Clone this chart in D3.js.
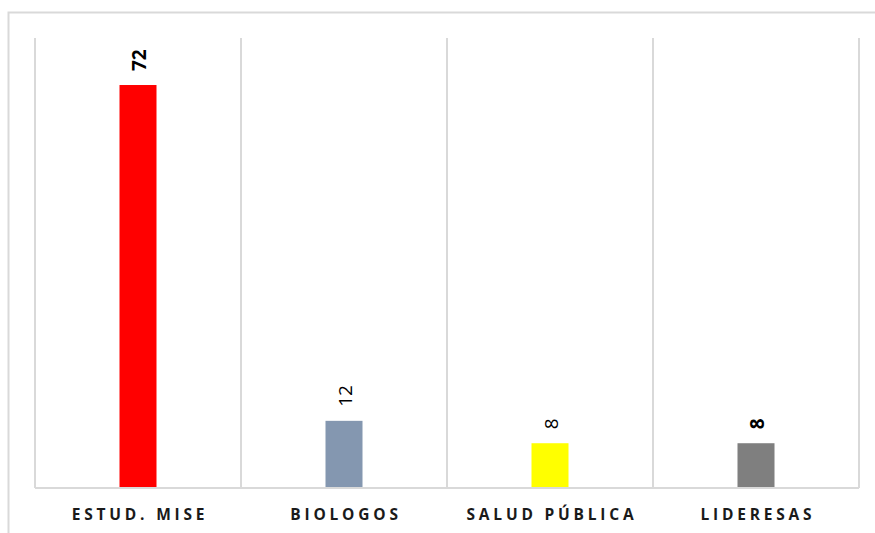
<!DOCTYPE html>
<html>
<head>
<meta charset="utf-8">
<script src="https://cdn.jsdelivr.net/npm/d3@7"></script>
<style>
  body { margin: 0; background: #fff; }
  svg { display: block; }
</style>
</head>
<body>
<script>
var categories = ["ESTUD. MISE", "BIOLOGOS", "SALUD PÚBLICA", "LIDERESAS"];
var values = [72, 12, 8, 8];
var colors = ["#ff0000", "#8497b0", "#ffff00", "#7f7f7f"];
var labelBold = [true, false, false, true];

var width = 875, height = 533;
var plotLeft = 35, plotRight = 859, plotTop = 38, plotBottom = 488;

var svg = d3.select("body").append("svg").attr("width", width).attr("height", height);

// chart border
svg.append("rect")
  .attr("x", 8.5).attr("y", 12.5)
  .attr("width", 880).attr("height", 540)
  .attr("fill", "none").attr("stroke", "#d9d9d9").attr("stroke-width", 2);

var x = d3.scaleBand().domain(categories).range([plotLeft, plotRight]).paddingInner(0).paddingOuter(0);
var y = d3.scaleLinear().domain([0, 80.4]).range([plotBottom, plotTop]);

// vertical gridlines at category edges
var edges = categories.map(function(d){ return x(d); }).concat([plotRight]);
svg.selectAll("line.grid")
  .data(edges)
  .enter().append("line")
    .attr("class", "grid")
    .attr("x1", function(d){ return d; })
    .attr("x2", function(d){ return d; })
    .attr("y1", plotTop)
    .attr("y2", plotBottom)
    .attr("stroke", "#d9d9d9")
    .attr("stroke-width", 2);

var barW = 37;
svg.selectAll("rect.bar")
  .data(values)
  .enter().append("rect")
    .attr("class", "bar")
    .attr("x", function(d, i){ return x(categories[i]) + x.bandwidth() / 2 - barW / 2; })
    .attr("y", function(d){ return y(d); })
    .attr("width", barW)
    .attr("height", function(d){ return plotBottom - y(d); })
    .attr("fill", function(d, i){ return colors[i]; });

// baseline
svg.append("line")
  .attr("x1", plotLeft).attr("x2", plotRight)
  .attr("y1", plotBottom).attr("y2", plotBottom)
  .attr("stroke", "#d9d9d9").attr("stroke-width", 2);

// data labels, rotated
svg.selectAll("text.val")
  .data(values)
  .enter().append("text")
    .attr("class", "val")
    .attr("transform", function(d, i){
      var cx = x(categories[i]) + x.bandwidth() / 2 + 1;
      return "translate(" + cx + "," + (y(d) - 14) + ") rotate(-90)";
    })
    .attr("dominant-baseline", "central")
    .attr("text-anchor", "start")
    .attr("font-family", "'Open Sans', 'DejaVu Sans', sans-serif")
    .attr("font-size", 19)
    .attr("font-weight", function(d, i){ return labelBold[i] ? "bold" : "normal"; })
    .attr("fill", "#000")
    .text(function(d){ return d; });

// category labels
svg.selectAll("text.cat")
  .data(categories)
  .enter().append("text")
    .attr("class", "cat")
    .attr("x", function(d){ return x(d) + x.bandwidth() / 2 + 2; })
    .attr("y", 520)
    .attr("text-anchor", "middle")
    .attr("font-family", "'Open Sans', 'DejaVu Sans', sans-serif")
    .attr("font-size", 15.5)
    .attr("font-weight", "bold")
    .attr("letter-spacing", "3.8px")
    .attr("fill", "#1a1a1a")
    .text(function(d){ return d; });
</script>
</body>
</html>
